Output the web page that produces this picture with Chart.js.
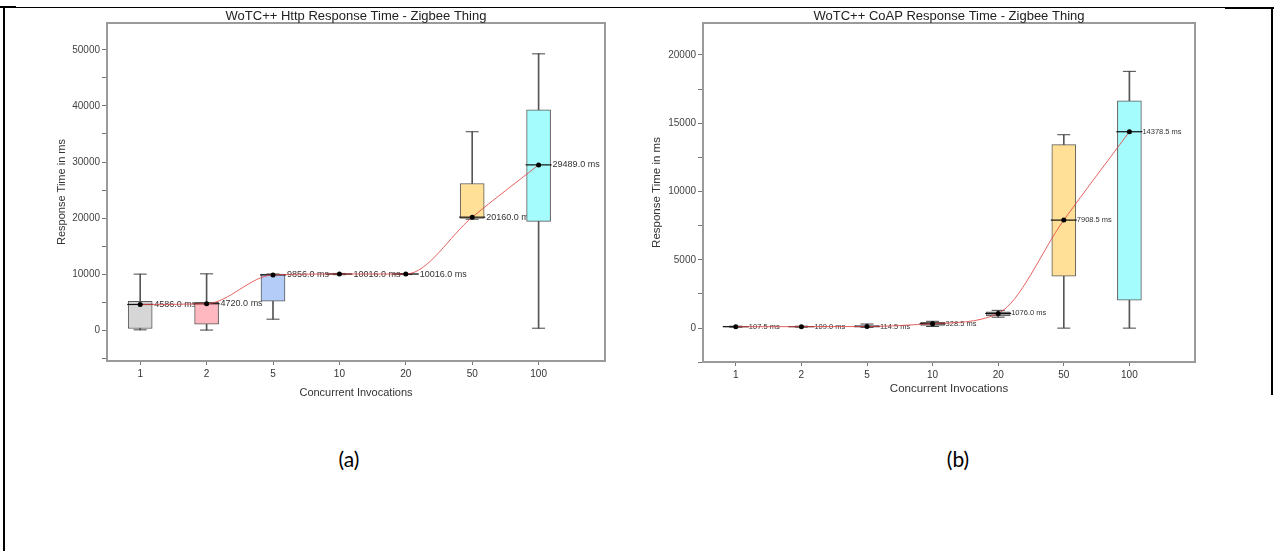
<!DOCTYPE html>
<html>
<head>
<meta charset="utf-8">
<script src="https://cdn.jsdelivr.net/npm/chart.js@4.4.1/dist/chart.umd.min.js"></script>
<style>
  body { margin:0; background:#fff; width:1274px; height:551px; overflow:hidden; position:relative; }
  .rule { position:absolute; background:#000; }
  canvas { position:absolute; top:0; }
  #chartA { left:0; }
  #chartB { left:600px; }
  .cap { position:absolute; font-family:Lato, "Open Sans", sans-serif; font-size:21px; line-height:26px; color:#000; transform:translateX(-50%); }
</style>
</head>
<body>
<div class="rule" style="left:0;top:7px;width:1274px;height:1px"></div>
<div class="rule" style="left:0;top:6px;width:16px;height:2px"></div>
<div class="rule" style="left:1225px;top:7px;width:49px;height:2px"></div>
<div class="rule" style="left:3px;top:7px;width:2px;height:544px"></div>
<div class="rule" style="left:1271px;top:7px;width:2px;height:388px"></div>

<canvas id="chartA" width="635" height="404"></canvas>
<canvas id="chartB" width="674" height="400"></canvas>

<div class="cap" style="left:349px;top:446px">(a)</div>
<div class="cap" style="left:958px;top:446px">(b)</div>

<script>
// 카테고리 (동시 호출 수)
const categories = ['1', '2', '5', '10', '20', '50', '100'];
const xPos = [1, 2, 3, 4, 5, 6, 7];

// (a) Http 응답시간 - box plot 값
const httpMin    = [60, 20, 1960, 9900, 9920, 19800, 350];
const httpQ1     = [300, 1070, 5160, 9960, 9980, 19930, 19400];
const httpMedian = [4586.0, 4720.0, 9856.0, 10016.0, 10016.0, 20160.0, 29489.0];
const httpQ3     = [5160, 4980, 9990, 10060, 10050, 26160, 39320];
const httpMax    = [10000, 10050, 10016, 10120, 10100, 35400, 49300];
const httpYTicks = [-5000, 0, 5000, 10000, 15000, 20000, 25000, 30000, 35000, 40000, 45000, 50000];

// (b) CoAP 응답시간
const coapMin    = [70, 75, 60, 120, 800, 0, 0];
const coapQ1     = [95, 100, 90, 200, 900, 3800, 2040];
const coapMedian = [107.5, 109.0, 114.5, 328.5, 1076.0, 7908.5, 14378.5];
const coapQ3     = [120, 120, 200, 420, 1200, 13430, 16640];
const coapMax    = [140, 140, 300, 500, 1300, 14160, 18800];
const coapYTicks = [-2500, 0, 2500, 5000, 7500, 10000, 12500, 15000, 17500, 20000];

const boxColors = ['#d6d6d6', '#ffb8c0', '#b4ccf8', '#9a9a9a', '#9a9a9a', '#ffe096', '#a4fcfc'];

const FONT = '"Liberation Sans", Arial, sans-serif';

// 플롯 테두리 + 제목 + median 라벨
const panelPlugin = {
  id: 'panel',
  beforeDatasetsDraw(chart, args, opts) {
    // 라벨은 박스 아래에 그림 (원본처럼 다음 박스가 라벨을 덮음)
    const ctx = chart.ctx;
    ctx.save();
    chart.data.datasets.forEach((ds, i) => {
      if (!ds.isMedianLine) return;
      const meta = chart.getDatasetMeta(i);
      ctx.font = opts.labelSize + 'px ' + FONT;
      ctx.fillStyle = '#333';
      ctx.textBaseline = 'middle';
      ctx.textAlign = 'left';
      meta.data.forEach((pt, j) => {
        ctx.fillText(ds.data[j].y.toFixed(1) + ' ms', pt.x + opts.labelDx, pt.y);
      });
    });
    ctx.restore();
  },
  afterDraw(chart, args, opts) {
    const ctx = chart.ctx;
    const ca = chart.chartArea;
    ctx.save();
    ctx.strokeStyle = '#9a9a9a';
    ctx.lineWidth = 2;
    ctx.strokeRect(ca.left, ca.top, ca.right - ca.left, ca.bottom - ca.top);
    ctx.font = '13px ' + FONT;
    ctx.fillStyle = '#222';
    ctx.textAlign = 'center';
    ctx.textBaseline = 'alphabetic';
    ctx.fillText(opts.title, (ca.left + ca.right) / 2, ca.top - 3);
    ctx.restore();
  }
};

function makeChart(id, cfg) {
  const pts = arr => xPos.map((x, i) => ({ x: x, y: arr[i] }));
  const datasets = [
    {
      type: 'bar', order: 5, grouped: false, barThickness: 1,
      data: xPos.map((x, i) => ({ x: x, y: [cfg.min[i], cfg.max[i]] })),
      backgroundColor: '#555', borderWidth: 0
    },
    {
      type: 'scatter', order: 4, showLine: false,
      data: pts(cfg.min).concat(pts(cfg.max)),
      pointStyle: 'line', pointRadius: 6.5, borderColor: '#444', borderWidth: 1
    },
    {
      type: 'bar', order: 3, grouped: false, barThickness: cfg.boxWidth,
      data: xPos.map((x, i) => ({ x: x, y: [cfg.q1[i], cfg.q3[i]] })),
      backgroundColor: boxColors, borderColor: '#5a5a5a', borderWidth: 1, borderSkipped: false
    },
    {
      type: 'scatter', order: 2, showLine: false,
      data: pts(cfg.median),
      pointStyle: 'line', pointRadius: cfg.boxWidth / 2 + 1, borderColor: '#111', borderWidth: 1.2
    },
    {
      type: 'line', order: 1, isMedianLine: true,
      data: pts(cfg.median),
      borderColor: 'rgba(225,70,70,0.85)', borderWidth: 1,
      cubicInterpolationMode: 'monotone',
      pointRadius: 2.5, pointBackgroundColor: '#000', pointBorderColor: '#000', pointBorderWidth: 0
    }
  ];

  return new Chart(document.getElementById(id), {
    type: 'bar',
    data: { datasets: datasets },
    options: {
      responsive: false,
      animation: false,
      events: [],
      layout: { padding: { left: cfg.padLeft, right: cfg.padRight, top: 23, bottom: 0 } },
      plugins: {
        legend: { display: false },
        tooltip: { enabled: false },
        panel: { title: cfg.title, labelSize: cfg.labelSize, labelDx: cfg.labelDx }
      },
      scales: {
        x: {
          type: 'linear', min: 0.5, max: 8, offset: false,
          afterBuildTicks: s => { s.ticks = xPos.map(v => ({ value: v })); },
          afterFit: s => { s.height = cfg.xAxisHeight; },
          ticks: { callback: (v, i) => categories[i], font: { family: FONT, size: 10 }, color: '#333', padding: 3, maxRotation: 0 },
          grid: { offset: false, drawOnChartArea: false, tickLength: 4, tickColor: '#777' },
          border: { color: '#8a8a8a', width: 2 },
          title: { display: true, text: 'Concurrent Invocations', font: { family: FONT, size: cfg.axisTitleSize }, color: '#333' }
        },
        y: {
          type: 'linear', min: cfg.yMin, max: cfg.yMax,
          afterBuildTicks: s => { s.ticks = cfg.yTicks.map(v => ({ value: v })); },
          afterFit: s => { s.width = cfg.yAxisWidth; },
          ticks: {
            callback: v => (v % cfg.majorStep === 0 ? String(v) : ''),
            font: { family: FONT, size: 10 }, color: '#444', padding: 2
          },
          grid: { drawOnChartArea: false, tickLength: 5, tickColor: '#777' },
          border: { color: '#8a8a8a', width: 2 },
          title: { display: true, text: 'Response Time in ms', font: { family: FONT, size: cfg.axisTitleSize }, color: '#333' }
        }
      }
    },
    plugins: [panelPlugin]
  });
}

makeChart('chartA', {
  title: 'WoTC++ Http Response Time - Zigbee Thing',
  min: httpMin, q1: httpQ1, median: httpMedian, q3: httpQ3, max: httpMax,
  yTicks: httpYTicks, majorStep: 10000, yMin: -5500, yMax: 54800,
  padLeft: 51, padRight: 30, yAxisWidth: 56, xAxisHeight: 43,
  boxWidth: 24, labelSize: 9, labelDx: 14, axisTitleSize: 11
});

makeChart('chartB', {
  title: 'WoTC++ CoAP Response Time - Zigbee Thing',
  min: coapMin, q1: coapQ1, median: coapMedian, q3: coapQ3, max: coapMax,
  yTicks: coapYTicks, majorStep: 5000, yMin: -2480, yMax: 22340,
  padLeft: 46, padRight: 79, yAxisWidth: 57, xAxisHeight: 38,
  boxWidth: 24, labelSize: 7.5, labelDx: 13, axisTitleSize: 11.5
});
</script>
</body>
</html>
